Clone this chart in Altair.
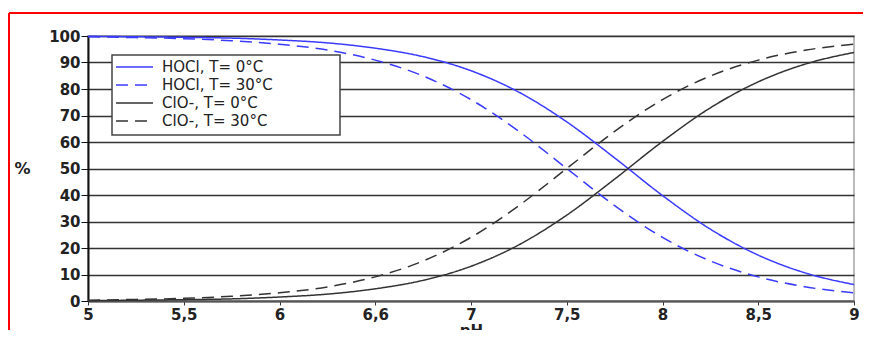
import altair as alt
import pandas as pd

# ---- data ----
ph = [5.0, 5.25, 5.5, 5.75, 6.0, 6.25, 6.5, 6.75, 7.0, 7.25, 7.5, 7.75, 8.0, 8.25, 8.5, 8.75, 9.0]
hocl_0 = [99.9, 99.7, 99.5, 99.2, 98.5, 97.4, 95.4, 92.2, 86.9, 78.8, 67.6, 54.0, 39.8, 27.1, 17.3, 10.5, 6.2]
hocl_30 = [99.7, 99.4, 99.0, 98.2, 96.9, 94.7, 90.9, 84.9, 76.0, 64.0, 50.0, 36.0, 24.0, 15.1, 9.1, 5.3, 3.1]
clo_0 = [0.1, 0.3, 0.5, 0.8, 1.5, 2.6, 4.6, 7.8, 13.1, 21.2, 32.4, 46.0, 60.2, 72.9, 82.7, 89.5, 93.8]
clo_30 = [0.3, 0.6, 1.0, 1.8, 3.1, 5.3, 9.1, 15.1, 24.0, 36.0, 50.0, 64.0, 76.0, 84.9, 90.9, 94.7, 96.9]

series_names = ["HOCl, T= 0°C", "HOCl, T= 30°C", "ClO-, T= 0°C", "ClO-, T= 30°C"]
series_values = [hocl_0, hocl_30, clo_0, clo_30]
series_colors = ["#3b3bff", "#3b3bff", "#333333", "#333333"]
series_dash = [[1, 0], [12, 7], [1, 0], [12, 7]]

x_tick_values = [5, 5.5, 6, 6.5, 7, 7.5, 8, 8.5, 9]
x_tick_labels = ["5", "5,5", "6", "6,6", "7", "7,5", "8", "8,5", "9"]
y_tick_values = [0, 10, 20, 30, 40, 50, 60, 70, 80, 90, 100]

rows = []
for name, vals in zip(series_names, series_values):
    for x, v in zip(ph, vals):
        rows.append({"pH": x, "pct": v, "series": name})
df = pd.DataFrame(rows)

label_expr = "''"
for v, lab in reversed(list(zip(x_tick_values, x_tick_labels))):
    label_expr = f"datum.value == {v} ? '{lab}' : ({label_expr})"

FONT = "DejaVu Sans"

lines = alt.Chart(df).mark_line(strokeWidth=1.5, interpolate="monotone").encode(
    x=alt.X("pH:Q", scale=alt.Scale(domain=[5, 9], nice=False, zero=False),
            axis=alt.Axis(values=x_tick_values, labelExpr=label_expr, grid=False,
                          title="pH", titleX=383, titleY=22, titleBaseline="top",
                          titleAlign="center", titleFontSize=15, titleFont=FONT,
                          titleFontWeight="bold", titleColor="#222",
                          labelFont=FONT, labelFontSize=15, labelFontWeight="bold",
                          labelColor="#222", labelPadding=2, tickSize=4,
                          tickColor="#333", domainColor="#555", domainWidth=2,
                          labelFlush=False)),
    y=alt.Y("pct:Q", scale=alt.Scale(domain=[0, 100], nice=False),
            axis=alt.Axis(values=y_tick_values, grid=True, gridColor="#333",
                          gridWidth=1.5, title="%", titleAngle=0, titleX=-66,
                          titleY=132, titleAlign="center", titleBaseline="middle",
                          titleFont=FONT, titleFontSize=16, titleFontWeight="bold",
                          titleColor="#222", labelFont=FONT, labelFontSize=15,
                          labelFontWeight="bold", labelColor="#222", labelPadding=1,
                          tickSize=7, tickColor="#111", domainColor="#111",
                          domainWidth=2)),
    color=alt.Color("series:N", scale=alt.Scale(domain=series_names, range=series_colors),
                    legend=None),
    strokeDash=alt.StrokeDash("series:N",
                              scale=alt.Scale(domain=series_names, range=series_dash),
                              legend=None),
    order=alt.Order("pH:Q"),
)

one = pd.DataFrame({"k": [0]})

# red frame around the picture
red_top = alt.Chart(one).mark_rule(color="#ff0000", strokeWidth=2).encode(
    x=alt.value(-79), x2=alt.value(800), y=alt.value(-23))
red_left = alt.Chart(one).mark_rule(color="#ff0000", strokeWidth=2).encode(
    x=alt.value(-79), y=alt.value(-23), y2=alt.value(320))

# legend box drawn by hand (native legend rows cannot be made this tight)
legend_box = alt.Chart(one).mark_rect(fill="white", stroke="#444444", strokeWidth=1.5).encode(
    x=alt.value(24), x2=alt.value(252), y=alt.value(19), y2=alt.value(99))
legend_layers = [legend_box]
for i, (name, col, dash) in enumerate(zip(series_names, series_colors, series_dash)):
    yy = 31 + 18 * i
    legend_layers.append(
        alt.Chart(one).mark_rule(color=col, strokeWidth=1.5, strokeDash=dash).encode(
            x=alt.value(28), x2=alt.value(65), y=alt.value(yy)))
    legend_layers.append(
        alt.Chart(one).mark_text(align="left", baseline="middle", font=FONT,
                                 fontSize=15, color="#222").encode(
            x=alt.value(74), y=alt.value(yy), text=alt.value(name)))

chart = alt.layer(lines, *legend_layers, red_top, red_left).properties(
    width=766, height=265,
    autosize=alt.AutoSizeParams(type="none"),
    padding={"left": 80, "top": 28, "right": 9, "bottom": 29},
    background="white",
).configure_view(stroke="#bbbbbb", strokeWidth=2)

chart.save("out.html", embed_options={"renderer": "svg", "actions": False})
